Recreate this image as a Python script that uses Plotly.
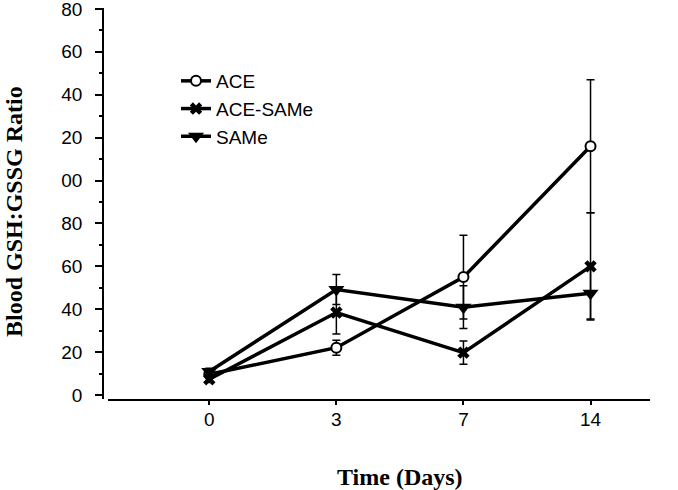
import plotly.graph_objects as go

# ---- data ----
days = ["0", "3", "7", "14"]
day_pos = [0, 1, 2, 3]

ace = [9.7, 22.1, 55.0, 116.0]
ace_err = [2.0, 3.5, 19.5, 31.0]

ace_same = [7.4, 38.5, 19.8, 60.0]
ace_same_err = [1.5, 10.0, 5.4, 25.0]

same = [11.0, 49.2, 41.0, 47.5]
same_err = [1.5, 7.0, 10.0, 12.0]

y_tickvals = [0, 20, 40, 60, 80, 100, 120, 140, 160, 180]
y_ticktext = ["0", "20", "40", "60", "80", "00", "20", "40", "60", "80"]

series_names = ["ACE", "ACE-SAMe", "SAMe"]

# ---- figure ----
W, H = 678, 490
ml, mr, mt, mb = 103, 28, 8, 91
plot_w = W - ml - mr
plot_h = H - mt - mb

fig = go.Figure()

err_style = dict(type="data", color="black", thickness=1.5, width=4)

fig.add_trace(go.Scatter(
    x=day_pos, y=ace, name=series_names[0], mode="lines+markers",
    line=dict(color="black", width=3.5),
    marker=dict(symbol="circle", size=10, color="white",
                line=dict(color="black", width=2)),
    error_y=dict(array=ace_err, **err_style),
    cliponaxis=False,
))
fig.add_trace(go.Scatter(
    x=day_pos, y=ace_same, name=series_names[1], mode="lines+markers",
    line=dict(color="black", width=3.5),
    marker=dict(symbol="x", size=11, color="black",
                line=dict(color="black", width=0)),
    error_y=dict(array=ace_same_err, **err_style),
    cliponaxis=False,
))
fig.add_trace(go.Scatter(
    x=day_pos, y=same, name=series_names[2], mode="lines+markers",
    line=dict(color="black", width=3.5),
    marker=dict(symbol="triangle-down", size=14, color="black",
                line=dict(color="black", width=0)),
    error_y=dict(array=same_err, **err_style),
    cliponaxis=False,
))

tick_font = dict(family="Liberation Sans, Arial, sans-serif", size=19, color="black")
title_font = dict(family="Liberation Serif, Times New Roman, serif", size=24, color="black")

fig.update_layout(
    width=W, height=H,
    margin=dict(l=ml, r=mr, t=mt, b=mb, pad=0, autoexpand=False),
    paper_bgcolor="white", plot_bgcolor="white",
    showlegend=True,
    legend=dict(
        x=(176 - ml) / plot_w, y=1 - (62 - mt) / plot_h,
        xanchor="left", yanchor="top",
        bgcolor="rgba(0,0,0,0)", borderwidth=0,
        font=dict(family="Liberation Sans, Arial, sans-serif", size=19, color="black"),
        tracegroupgap=0,
    ),
    xaxis=dict(
        domain=[5 / plot_w, 1],
        range=[-0.797, 3.468],
        tickvals=day_pos, ticktext=days,
        showgrid=False, zeroline=False, automargin=False,
        showline=True, linecolor="black", linewidth=1.5,
        ticks="outside", ticklen=4, tickwidth=1.5, tickcolor="black",
        tickfont=tick_font, ticklabelstandoff=-2, ticklabeloverflow="allow",
    ),
    yaxis=dict(
        anchor="free", position=0,
        range=[-1.8, 180.4],
        tickvals=y_tickvals, ticktext=y_ticktext,
        showgrid=False, zeroline=False, automargin=False,
        showline=True, linecolor="black", linewidth=1.5,
        ticks="outside", ticklen=7, tickwidth=1.5, tickcolor="black",
        minor=dict(dtick=10, tick0=0, ticks="outside", ticklen=3.5,
                   tickwidth=1.5, tickcolor="black", showgrid=False),
        tickfont=tick_font, ticklabelstandoff=9, ticklabeloverflow="allow",
    ),
    annotations=[
        dict(text="<b>Time (Days)</b>", xref="paper", yref="paper",
             x=(400 - ml) / plot_w, y=-(477 - (H - mb)) / plot_h,
             xanchor="center", yanchor="middle", showarrow=False, font=title_font),
        dict(text="<b>Blood GSH:GSSG Ratio</b>", xref="paper", yref="paper",
             x=-(ml - 14) / plot_w, y=1 - (212 - mt) / plot_h,
             xanchor="center", yanchor="middle", textangle=-90,
             showarrow=False, font=title_font),
    ],
)

fig.write_html("out.html", config={"displayModeBar": False},
               post_script="document.body.style.margin='0';")
